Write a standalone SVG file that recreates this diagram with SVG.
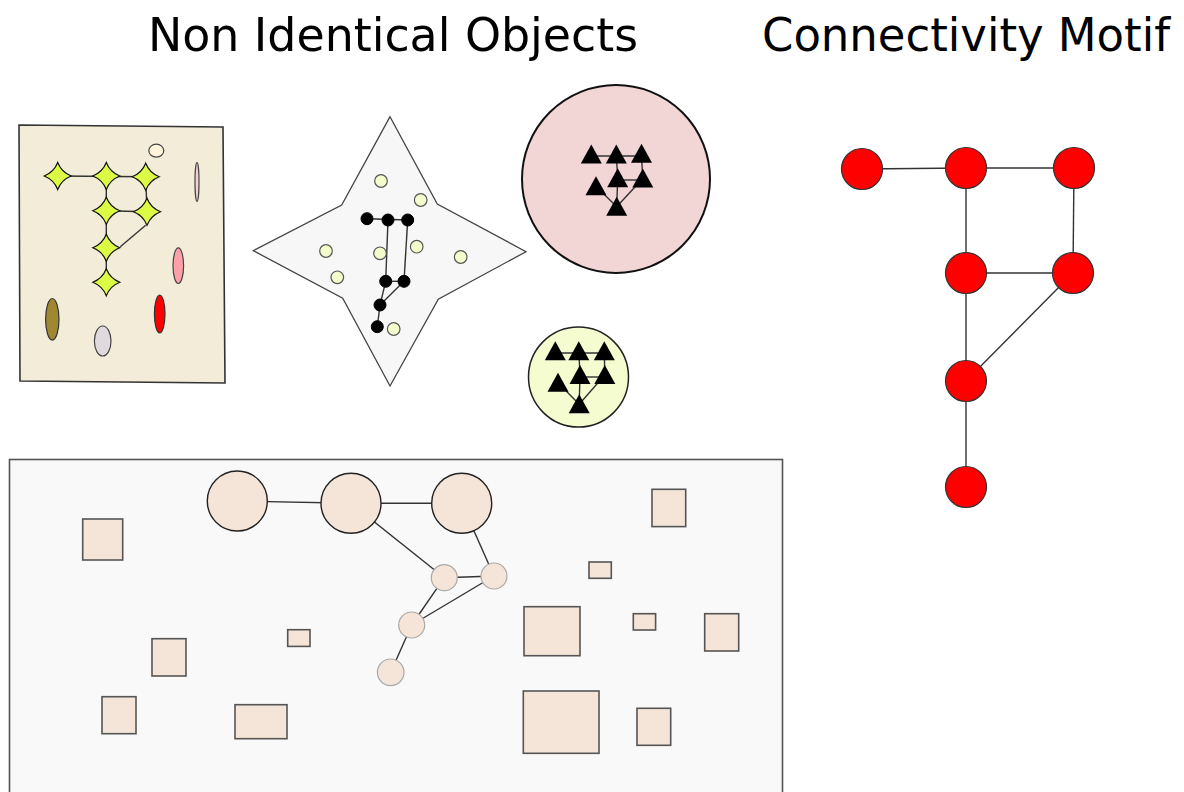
<svg xmlns="http://www.w3.org/2000/svg" width="1184" height="792" viewBox="0 0 1184 792">
<style>
.title{font-family:"DejaVu Sans Condensed","DejaVu Sans",sans-serif;font-size:46px;fill:#000}
.edge{stroke:#333;stroke-width:1.4;fill:none}
.star{fill:#ddfa44;stroke:#111;stroke-width:1.2}
.dotY{fill:#f5fccc;stroke:#555;stroke-width:1.2}
.dotB{fill:#000;stroke:#000}
.tri{fill:#000}
.sq{fill:#f5e5d8;stroke:#555;stroke-width:1.6}
.bigc{fill:#f5e5d8;stroke:#222;stroke-width:1.4}
.smc{fill:#f5e5d8;stroke:#aaa;stroke-width:1.2}
.motif{fill:#ff0000;stroke:#333;stroke-width:1.2}
</style>
<defs>
<path id="st4" d="M0,-13.5 Q3.8,-3.8 13.5,0 Q3.8,3.8 0,13.5 Q-3.8,3.8 -13.5,0 Q-3.8,-3.8 0,-13.5Z"/>
<polygon id="tri" points="0,-10 10.5,9 -10.5,9"/>
</defs>
<rect width="1184" height="792" fill="#fff"/>
<text class="title" x="148" y="51" textLength="490" lengthAdjust="spacingAndGlyphs">Non Identical Objects</text>
<text class="title" x="762" y="51" textLength="408" lengthAdjust="spacingAndGlyphs">Connectivity Motif</text>

<g id="obj-rect">
<polygon points="19,125 223,127 225,383 20,381" fill="#f3ecd8" stroke="#333" stroke-width="1.6"/>
<g class="edges">
<line class="edge" x1="57.7" y1="176" x2="145.7" y2="176.7"/>
<line class="edge" x1="106.3" y1="176" x2="106.3" y2="282.3"/>
<line class="edge" x1="145.7" y1="176.7" x2="147" y2="211.7"/>
<line class="edge" x1="106.3" y1="210.7" x2="147" y2="211.7"/>
<line class="edge" x1="145.7" y1="225.3" x2="120.3" y2="246.7"/>
</g>
<use href="#st4" class="star" x="57.7" y="176"/>
<use href="#st4" class="star" x="106.3" y="176"/>
<use href="#st4" class="star" x="145.7" y="176.7"/>
<use href="#st4" class="star" x="106.3" y="210.7"/>
<use href="#st4" class="star" x="147" y="211.7"/>
<use href="#st4" class="star" x="106.3" y="247.7"/>
<use href="#st4" class="star" x="106.3" y="282.3"/>
<ellipse cx="156.3" cy="150.7" rx="7.5" ry="6.5" fill="#fff5dc" stroke="#444" stroke-width="1.2"/>
<ellipse cx="197" cy="182" rx="2" ry="19.5" fill="#f5d0d8" stroke="#444" stroke-width="1.2"/>
<ellipse cx="178.3" cy="265.7" rx="5.3" ry="17.8" fill="#ffa0a8" stroke="#444" stroke-width="1.2"/>
<ellipse cx="52.3" cy="319.3" rx="6.7" ry="20.8" fill="#a08830" stroke="#333" stroke-width="1.2"/>
<ellipse cx="159.7" cy="314" rx="5.3" ry="19" fill="#ff0000" stroke="#333" stroke-width="1.2"/>
<ellipse cx="102.7" cy="341" rx="8.3" ry="15" fill="#e0dade" stroke="#444" stroke-width="1.2"/>
</g>

<g id="obj-star">
<polygon points="390,116.7 437.3,204 526,251.7 438.3,299.3 390,386 342.7,298.3 253.3,250.7 341.7,205" fill="#f7f7f7" stroke="#444" stroke-width="1.3"/>
<g class="edges">
<line class="edge" x1="367" y1="218.7" x2="407.7" y2="220"/>
<line class="edge" x1="388" y1="220" x2="385.7" y2="281.3"/>
<line class="edge" x1="407.7" y1="220" x2="404" y2="281.3"/>
<line class="edge" x1="385.7" y1="281.3" x2="404" y2="281.3"/>
<line class="edge" x1="404" y1="281.3" x2="380" y2="305"/>
<line class="edge" x1="385.7" y1="281.3" x2="380" y2="305"/>
<line class="edge" x1="380" y1="305" x2="377.3" y2="326.7"/>
</g>
<circle class="dotY" cx="381" cy="181" r="6.3"/>
<circle class="dotY" cx="420.7" cy="200" r="6.3"/>
<circle class="dotY" cx="326" cy="251" r="6.3"/>
<circle class="dotY" cx="380" cy="253.3" r="6.3"/>
<circle class="dotY" cx="416.7" cy="246.7" r="6.3"/>
<circle class="dotY" cx="460.7" cy="257" r="6.3"/>
<circle class="dotY" cx="337.3" cy="277.3" r="6.3"/>
<circle class="dotY" cx="393.7" cy="329" r="6.3"/>
<circle class="dotB" cx="367" cy="218.7" r="6"/>
<circle class="dotB" cx="388" cy="220" r="6"/>
<circle class="dotB" cx="407.7" cy="220" r="6"/>
<circle class="dotB" cx="385.7" cy="281.3" r="6"/>
<circle class="dotB" cx="404" cy="281.3" r="6"/>
<circle class="dotB" cx="380" cy="305" r="6"/>
<circle class="dotB" cx="377.3" cy="326.7" r="6"/>
</g>

<g id="obj-pink-circle">
<circle cx="616" cy="179" r="94" fill="#f2d5d5" stroke="#111" stroke-width="2"/>
<g class="edges">
<line class="edge" x1="591.3" y1="156" x2="641.5" y2="156"/>
<line class="edge" x1="616.3" y1="156" x2="617.7" y2="178.3"/>
<line class="edge" x1="641.5" y1="156" x2="642.8" y2="178.5"/>
<line class="edge" x1="617.7" y1="180" x2="642.8" y2="180"/>
<line class="edge" x1="617.7" y1="178.3" x2="616.7" y2="206.7"/>
<line class="edge" x1="596" y1="186.3" x2="616.7" y2="206.7"/>
<line class="edge" x1="642.8" y1="178.5" x2="616.7" y2="206.7"/>
</g>
<use href="#tri" class="tri" x="591.3" y="154.5"/>
<use href="#tri" class="tri" x="616.3" y="154.5"/>
<use href="#tri" class="tri" x="641.5" y="153.8"/>
<use href="#tri" class="tri" x="596" y="186.3"/>
<use href="#tri" class="tri" x="617.7" y="178.3"/>
<use href="#tri" class="tri" x="642.8" y="178.5"/>
<use href="#tri" class="tri" x="616.7" y="206.7"/>
</g>

<g id="obj-yellow-circle">
<circle cx="578.5" cy="377" r="50" fill="#f5fcd0" stroke="#222" stroke-width="1.5"/>
<g class="edges">
<line class="edge" x1="555.3" y1="353" x2="604.3" y2="353"/>
<line class="edge" x1="578.8" y1="351.3" x2="580" y2="375"/>
<line class="edge" x1="604.3" y1="351.3" x2="604.8" y2="375"/>
<line class="edge" x1="580" y1="377" x2="604.8" y2="377"/>
<line class="edge" x1="580" y1="375" x2="579.2" y2="404.2"/>
<line class="edge" x1="558" y1="382.8" x2="579.2" y2="404.2"/>
<line class="edge" x1="604.8" y1="375" x2="579.2" y2="404.2"/>
</g>
<use href="#tri" class="tri" x="555.3" y="351.3"/>
<use href="#tri" class="tri" x="578.8" y="351.3"/>
<use href="#tri" class="tri" x="604.3" y="351.3"/>
<use href="#tri" class="tri" x="558" y="382.8"/>
<use href="#tri" class="tri" x="580" y="375"/>
<use href="#tri" class="tri" x="604.8" y="375"/>
<use href="#tri" class="tri" x="579.2" y="404.2"/>
</g>

<g id="obj-bottom-panel">
<rect x="9.5" y="459.5" width="773" height="345" fill="#f9f9f9" stroke="#555" stroke-width="1.6"/>
<g class="edges">
<line class="edge" x1="237.3" y1="501" x2="351" y2="503.3"/>
<line class="edge" x1="351" y1="503.3" x2="461.7" y2="503.3"/>
<line class="edge" x1="351" y1="503.3" x2="444.3" y2="577.7"/>
<line class="edge" x1="461.7" y1="503.3" x2="494" y2="576"/>
<line class="edge" x1="444.3" y1="577.7" x2="494" y2="576"/>
<line class="edge" x1="444.3" y1="577.7" x2="411.7" y2="625"/>
<line class="edge" x1="494" y1="576" x2="411.7" y2="625"/>
<line class="edge" x1="411.7" y1="625" x2="390.7" y2="672.3"/>
</g>
<circle class="bigc" cx="237.3" cy="501" r="30"/>
<circle class="bigc" cx="351" cy="503.3" r="30"/>
<circle class="bigc" cx="461.7" cy="503.3" r="30"/>
<circle class="smc" cx="444.3" cy="577.7" r="13"/>
<circle class="smc" cx="494" cy="576" r="13"/>
<circle class="smc" cx="411.7" cy="625" r="13"/>
<circle class="smc" cx="390.7" cy="672.3" r="13.3"/>
<rect class="sq" x="82.7" y="519" width="40" height="41"/>
<rect class="sq" x="152" y="638.7" width="34" height="37.3"/>
<rect class="sq" x="102" y="696.7" width="34" height="37"/>
<rect class="sq" x="235" y="704.7" width="52" height="34"/>
<rect class="sq" x="287.7" y="629.7" width="22.3" height="16.7"/>
<rect class="sq" x="652" y="489.3" width="33.7" height="37.3"/>
<rect class="sq" x="589" y="562" width="22.3" height="16.3"/>
<rect class="sq" x="524" y="606.7" width="56" height="49"/>
<rect class="sq" x="633.3" y="613.7" width="22.3" height="16.3"/>
<rect class="sq" x="704.7" y="613.7" width="34" height="37.3"/>
<rect class="sq" x="523.3" y="691" width="75.7" height="62.3"/>
<rect class="sq" x="637" y="708.3" width="33.7" height="37"/>
</g>

<g id="connectors">
<line class="edge" x1="862" y1="169" x2="966" y2="168"/>
<line class="edge" x1="966" y1="168" x2="1074" y2="168"/>
<line class="edge" x1="966" y1="168" x2="966" y2="273"/>
<line class="edge" x1="1074" y1="168" x2="1073" y2="273"/>
<line class="edge" x1="966" y1="273" x2="1073" y2="273"/>
<line class="edge" x1="966" y1="273" x2="966" y2="381"/>
<line class="edge" x1="1073" y1="273" x2="966" y2="381"/>
<line class="edge" x1="966" y1="381" x2="966" y2="487"/>
</g>
<g id="m1"><circle class="motif" cx="862" cy="169" r="20.5"/></g>
<g id="m2"><circle class="motif" cx="966" cy="168" r="20.5"/></g>
<g id="m3"><circle class="motif" cx="1074" cy="168" r="20.5"/></g>
<g id="m4"><circle class="motif" cx="966" cy="273" r="20.5"/></g>
<g id="m5"><circle class="motif" cx="1073" cy="273" r="20.5"/></g>
<g id="m6"><circle class="motif" cx="966" cy="381" r="20.5"/></g>
<g id="m7"><circle class="motif" cx="966" cy="487" r="20.5"/></g>
</svg>
